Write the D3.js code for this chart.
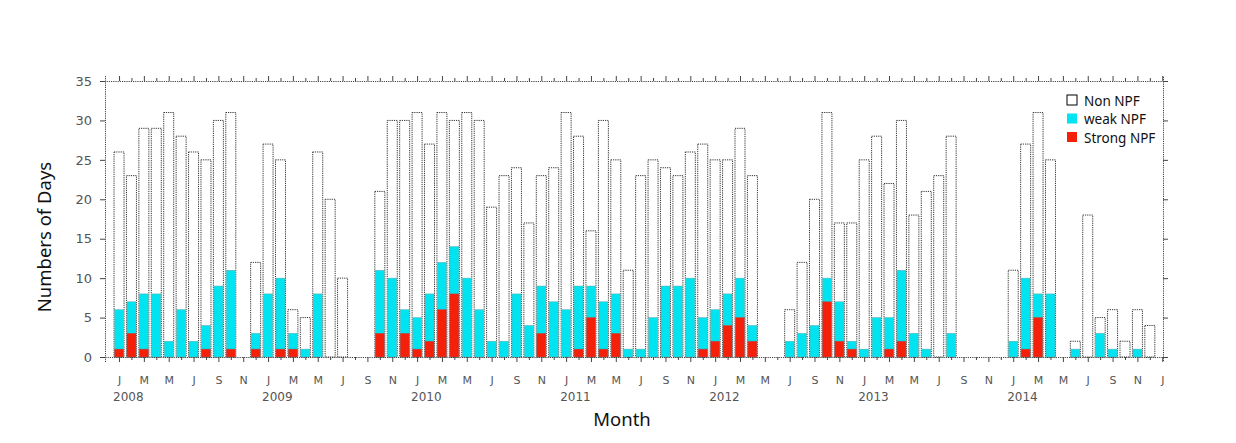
<!DOCTYPE html>
<meta charset="utf-8">
<script src="https://d3js.org/d3.v7.min.js"></script>
<style>
    body { margin: 0; background: #fff; }
    .axis path.domain { stroke: #444; stroke-dasharray: 1.2 1; }
    .axis line { stroke: #444; }
    .axis text { font-family: "DejaVu Sans", sans-serif; fill: #555; }
    .bar_total { fill: #fff; stroke: #333; stroke-width: 1; stroke-dasharray: 1.2 1; }
    .bar_weak { fill: #00E3F0; stroke: #6aa; stroke-width: 0.5; }
    .bar_strong { fill: #F5200A; stroke: #a55; stroke-width: 0.5; }
    .title_text { font-family: "Noto Sans", sans-serif; font-size: 18.5px; fill: #111; }
    .legend text { font-family: "Noto Sans", sans-serif; font-size: 13.5px; fill: #111; }
    .year_text { font-family: "DejaVu Sans", sans-serif; font-size: 12px; fill: #555; }
</style>
<div id="my_dataviz"></div>
<script>
// months from Jan 2008 to Dec 2014
const years = [2008, 2009, 2010, 2011, 2012, 2013, 2014];
const monthLetters = ["J", "F", "M", "A", "M", "J", "J", "A", "S", "O", "N", "D"];
const yTicks = [0, 5, 10, 15, 20, 25, 30, 35];

// days per month (whole bar height)
const totalDays = [
    26, 23, 29, 29, 31, 28, 26, 25, 30, 31, 0, 12,
    27, 25, 6, 5, 26, 20, 10, 0, 0, 21, 30, 30,
    31, 27, 31, 30, 31, 30, 19, 23, 24, 17, 23, 24,
    31, 28, 16, 30, 25, 11, 23, 25, 24, 23, 26, 27,
    25, 25, 29, 23, 0, 0, 6, 12, 20, 31, 17, 17,
    25, 28, 22, 30, 18, 21, 23, 28, 0, 0, 0, 0,
    11, 27, 31, 25, 0, 2, 18, 5, 6, 2, 6, 4
];
// weak NPF days
const weakNPF = [
    5, 4, 7, 8, 2, 6, 2, 3, 9, 10, 0, 2,
    8, 9, 2, 1, 8, 0, 0, 0, 0, 8, 10, 3,
    4, 6, 6, 6, 10, 6, 2, 2, 8, 4, 6, 7,
    6, 8, 4, 6, 5, 1, 1, 5, 9, 9, 10, 4,
    4, 4, 5, 2, 0, 0, 2, 3, 4, 3, 5, 1,
    1, 5, 4, 9, 3, 1, 0, 3, 0, 0, 0, 0,
    2, 9, 3, 8, 0, 1, 0, 3, 1, 0, 1, 0
];
// strong NPF days
const strongNPF = [
    1, 3, 1, 0, 0, 0, 0, 1, 0, 1, 0, 1,
    0, 1, 1, 0, 0, 0, 0, 0, 0, 3, 0, 3,
    1, 2, 6, 8, 0, 0, 0, 0, 0, 0, 3, 0,
    0, 1, 5, 1, 3, 0, 0, 0, 0, 0, 0, 1,
    2, 4, 5, 2, 0, 0, 0, 0, 0, 7, 2, 1,
    0, 0, 1, 2, 0, 0, 0, 0, 0, 0, 0, 0,
    0, 1, 5, 0, 0, 0, 0, 0, 0, 0, 0, 0
];

const width = 1236, height = 443;

const data = totalDays.map((t, i) => ({
    i: i,
    total: t,
    weakTop: strongNPF[i] + weakNPF[i],
    strong: strongNPF[i]
}));

let x = d3.scaleLinear().domain([-1.13, 84.06]).range([105, 1163]);
let y = d3.scaleLinear().domain([0, 35]).range([357, 81]);
const barW = 10;

const svg = d3.select("#my_dataviz").append("svg")
    .attr("width", width)
    .attr("height", height);

function setBars() {
    const g = svg.append("g").attr("class", "bars");
    g.selectAll(".bar_total").data(data.filter(d => d.total > 0)).join("rect")
        .attr("class", "bar_total")
        .attr("x", d => x(d.i) - barW / 2).attr("width", barW)
        .attr("y", d => y(d.total)).attr("height", d => y(0) - y(d.total));
    g.selectAll(".bar_weak").data(data.filter(d => d.weakTop > 0)).join("rect")
        .attr("class", "bar_weak")
        .attr("x", d => x(d.i) - barW / 2 + 0.5).attr("width", barW - 1)
        .attr("y", d => y(d.weakTop)).attr("height", d => y(0) - y(d.weakTop));
    g.selectAll(".bar_strong").data(data.filter(d => d.strong > 0)).join("rect")
        .attr("class", "bar_strong")
        .attr("x", d => x(d.i) - barW / 2 + 0.5).attr("width", barW - 1)
        .attr("y", d => y(d.strong)).attr("height", d => y(0) - y(d.strong));
}

function setAxes() {
    const months = d3.range(0, 85);
    const monthFmt = i => (i % 2 === 0) ? monthLetters[i % 12] : "";

    const xb = svg.append("g").attr("class", "axis x_axis")
        .attr("transform", "translate(0," + y(0) + ")")
        .call(d3.axisBottom(x).tickValues(months).tickFormat(monthFmt).tickSizeOuter(0).tickSize(5).tickPadding(14));
    xb.selectAll(".tick text").style("font-size", "11px");
    xb.selectAll(".tick line").attr("y2", (d) => d % 2 === 0 ? 5 : 3);

    const xt = svg.append("g").attr("class", "axis x_axis_top")
        .attr("transform", "translate(0," + y(35) + ")")
        .call(d3.axisTop(x).tickValues(months).tickFormat("").tickSizeOuter(0).tickSize(5));
    xt.selectAll(".tick line").attr("y2", (d) => d % 2 === 0 ? -5 : -3);

    svg.append("g").attr("class", "axis y_axis")
        .attr("transform", "translate(" + x.range()[0] + ",0)")
        .call(d3.axisLeft(y).tickValues(yTicks).tickSizeOuter(0).tickSize(5).tickPadding(8))
        .selectAll(".tick text").style("font-size", "13px");

    svg.append("g").attr("class", "axis y_axis_right")
        .attr("transform", "translate(" + x.range()[1] + ",0)")
        .call(d3.axisRight(y).tickValues(yTicks).tickFormat("").tickSizeOuter(0).tickSize(5));

    svg.selectAll(".year_text").data(years).join("text")
        .attr("class", "year_text")
        .attr("x", (d, k) => x(k * 12) - 6)
        .attr("y", 401)
        .text(d => d);
}

function setText() {
    svg.append("text").attr("class", "title_text")
        .attr("transform", "translate(51,237) rotate(-90)")
        .attr("text-anchor", "middle")
        .text("Numbers of Days");
    svg.append("text").attr("class", "title_text")
        .attr("x", 622).attr("y", 426)
        .attr("text-anchor", "middle")
        .text("Month");
}

function setLegend() {
    const items = [
        {name: "Non NPF", fill: "#fff", stroke: "#000"},
        {name: "weak NPF", fill: "#00E3F0", stroke: "none"},
        {name: "Strong NPF", fill: "#F5200A", stroke: "none"}
    ];
    const lg = svg.append("g").attr("class", "legend").attr("transform", "translate(1067,95)");
    const row = lg.selectAll("g").data(items).join("g")
        .attr("transform", (d, k) => "translate(0," + (k * 18.5) + ")");
    row.append("rect").attr("width", 10).attr("height", 10)
        .attr("fill", d => d.fill).attr("stroke", d => d.stroke);
    row.append("text").attr("x", 17).attr("y", 10.5).text(d => d.name);
}

setBars();
setAxes();
setText();
setLegend();
</script>
